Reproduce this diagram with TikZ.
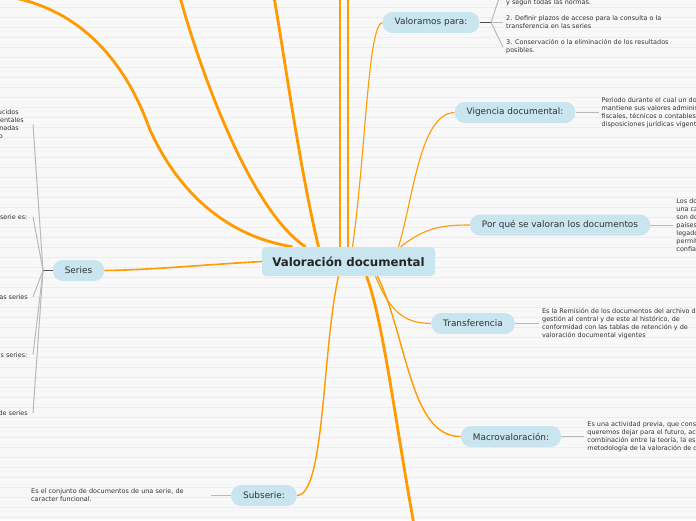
\documentclass[tikz,border=0pt]{standalone}
\usepackage{fontspec}
\setmainfont{DejaVu Sans}
\usepackage{xcolor}
\usepackage{tikz}
\usetikzlibrary{positioning, backgrounds}
\definecolor{nodeblue}{HTML}{C8E5F0}
\definecolor{branch}{HTML}{FF9A00}
\definecolor{inktext}{HTML}{333333}
\definecolor{paperbg}{HTML}{F8F8F8}
\definecolor{paperline}{HTML}{EDEDED}
\tikzstyle{central} = [rectangle, rounded corners=4pt, fill=nodeblue, text=black!85, minimum height=29pt, minimum width=173pt, font=\fontsize{11.8}{13}\selectfont\bfseries]
\tikzstyle{topic} = [rectangle, rounded corners=10pt, fill=nodeblue, text=inktext, minimum height=21pt, inner xsep=12pt, font=\fontsize{8.9}{10}\selectfont]
\tikzstyle{note} = [align=left, inner xsep=3pt, inner ysep=0pt, text=inktext, font=\fontsize{6.45}{8}\selectfont]
\tikzstyle{branchthick} = [draw=branch, line width=2.8pt]
\tikzstyle{branchthin} = [draw=branch, line width=1.1pt]
\tikzstyle{leaf} = [draw=gray!55, line width=1pt]
\tikzstyle{hub} = [draw=black!70, line width=1.5pt]

\begin{document}
\begin{tikzpicture}[x=1pt, y=-1pt]
    \useasboundingbox (0,0) rectangle (696,520);
    % Nodes
    \node [central] (ctr) at (348.5,261.5) {Valoración documental};
    \node [topic] (valo) at (431,22.5) {Valoramos para:};
    \node [topic] (vig) at (515,112.5) {Vigencia documental:};
    \node [topic] (porq) at (560,225) {Por qué se valoran los documentos};
    \node [topic] (trans) at (473,323.5) {Transferencia};
    \node [topic] (macro) at (511,436.5) {Macrovaloración:};
    \node [topic] (subs) at (264,495.5) {Subserie:};
    \node [topic] (ser) at (78.5,270.5) {Series};

    % Notes
    \coordinate (valoH) at (491,22.5);
    \coordinate (valoT1E) at (503,-14);
    \node [note, anchor=west] (valoT1) at (503,2.5) {y según todas las normas.};
    \node [note, anchor=west] (valoT2) at (503,22.5) {2. Definir plazos de acceso para la consulta o la\\transferencia en las series};
    \node [note, anchor=west] (valoT3) at (503,47) {3. Conservación o la eliminación de los resultados\\posibles.};
    \node [note, right=23pt of vig] (vigT) {Periodo durante el cual un do\\mantiene sus valores adminis\\fiscales, técnicos o contables\\disposiciones jurídicas vigent};
    \node [note, right=23pt of porq] (porqT) {Los do\\una ca\\son do\\países\\legado\\permit\\confia};
    \node [note, right=24pt of trans] (transT) {Es la Remisión de los documentos del archivo de\\gestión al central y de este al histórico, de\\conformidad con las tablas de retención y de\\valoración documental vigentes};
    \node [note, right=23pt of macro] (macroT) {Es una actividad previa, que cons\\queremos dejar para el futuro, ac\\combinación entre la teoría, la es\\metodología de la valoración de d};
    \node [note, anchor=west, text width=177pt] (subsT) at (28,495.5) {Es el conjunto de documentos de una serie, de\\caracter funcional.};
    \coordinate (serH) at (43,270.5);
    \node [note, align=right, anchor=east, inner xsep=9pt] (serT1) at (33,124.5) {ucidos\kern5pt\\entales\\nadas\kern5pt\\o\kern21pt};
    \node [note, align=right, anchor=east, inner xsep=5.5pt] (serT2) at (33,216.7) {serie es:};
    \node [note, align=right, anchor=east, inner xsep=5pt] (serT3) at (33,296.7) {as series};
    \node [note, align=right, anchor=east, inner xsep=5.5pt] (serT4) at (33,354.7) {s series:};
    \node [note, align=right, anchor=east, inner xsep=5pt] (serT5) at (33,413) {de series};

    % Leaves
    \path [hub] (valo.east) -- (valoH);
    \path [leaf] (valoH) -- (valoT1E);
    \path [leaf] (valoH) -- (valoT2.west);
    \path [leaf] (valoH) -- (valoT3.west);
    \path [leaf] (vig.east) -- (vigT.west);
    \path [leaf] (porq.east) -- (porqT.west);
    \path [leaf] (trans.east) -- (transT.west);
    \path [leaf] (macro.east) -- (macroT.west);
    \path [leaf] (subs.west) -- (subsT.east);
    \path [hub] (ser.west) -- (serH);
    \foreach \t in {serT1,serT2,serT3,serT4,serT5}
        \path [leaf] (serH) -- (\t.east);

    \begin{scope}[on background layer]
        \fill [paperbg] (0,0) rectangle (696,520);
        \foreach \y in {7.5,17.5,...,517.5}
            \draw [paperline, line width=0.6pt] (0,\y) -- (696,\y);
        % Edges
        \coordinate (up1) at (10,-3);
        \coordinate (up2) at (180,-3);
        \coordinate (up3) at (274,-3);
        \coordinate (up4) at (340,-3);
        \coordinate (up5) at (348,-3);
        \coordinate (down1) at (414,525);
        \path [branchthick] ([xshift=-56pt]ctr.north) .. controls (220,235) and (175,185) .. (150,130)
            .. controls (125,60) and (80,10) .. (up1);
        \path [branchthick] ([xshift=-43pt]ctr.north) .. controls (250,210) and (200,70) .. (up2);
        \path [branchthick] ([xshift=-30pt]ctr.north) .. controls (300,170) and (285,60) .. (up3);
        \path [branchthick] ([xshift=-8.5pt]ctr.north) -- (up4);
        \path [branchthick] ([xshift=-0.5pt]ctr.north) -- (up5);
        \path [branchthick] ([xshift=18pt]ctr.south) .. controls (383,320) and (395,420) .. (down1);
        \path [branchthin] ([xshift=4pt]ctr.north) .. controls (366,150) and (368,24) .. (valo.west);
        \path [branchthin] ([xshift=50pt]ctr.north) .. controls (414,195) and (420,114) .. (vig.west);
        \path [branchthin] ([xshift=52pt]ctr.north) .. controls (425,228) and (440,225) .. (porq.west);
        \path [branchthin] ([xshift=27pt]ctr.south) .. controls (392,318) and (410,323) .. (trans.west);
        \path [branchthin, line width=1.4pt] ([xshift=29pt]ctr.south) .. controls (408,340) and (410,437) .. (macro.west);
        \path [branchthin, line width=1.4pt] ([xshift=-10pt]ctr.south) .. controls (322,350) and (325,495) .. (subs.east);
        \path [branchthin, line width=1.6pt] (ctr.west) .. controls (200,265) and (150,270) .. (ser.east);
    \end{scope}
\end{tikzpicture}
\end{document}
